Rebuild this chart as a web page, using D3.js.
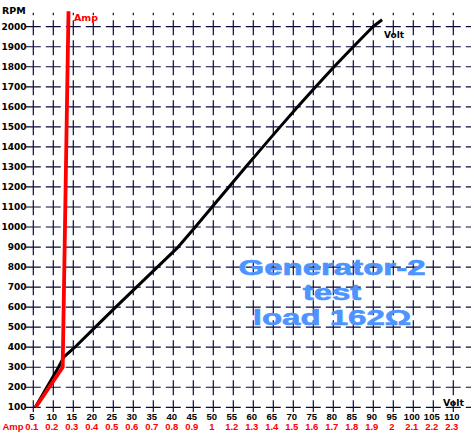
<!DOCTYPE html>
<html><head><meta charset="utf-8">
<script src="https://cdn.jsdelivr.net/npm/d3@7"></script>
<style>html,body{margin:0;padding:0;background:#fff;}svg{display:block;}</style>
</head><body>
<svg id="c" width="474" height="433"></svg>
<script>
// ---- data ----
const voltTicks = [5,10,15,20,25,30,35,40,45,50,55,60,65,70,75,80,85,90,95,100,105,110];
const ampLabels = ["0.1","0.2","0.3","0.4","0.5","0.6","0.7","0.8","0.9","1","1.2","1.3","1.4","1.5","1.6","1.7","1.8","1.9","2","2.1","2.2","2.3"];
const rpmTicks = [100,200,300,400,500,600,700,800,900,1000,1100,1200,1300,1400,1500,1600,1700,1800,1900,2000];
const voltValues = [5.5, 8.4, 11.3, 12.6, 15.4, 20.5, 25.6, 30.8, 36.0, 41.2, 45.5, 49.7, 53.9, 58.1, 62.4, 66.7, 71.1, 75.6, 80.2, 85.0, 89.9, 92.2];
const voltRpm    = [100, 200, 300, 350, 400, 500, 600, 700, 800, 900, 1000, 1100, 1200, 1300, 1400, 1500, 1600, 1700, 1800, 1900, 2000, 2035];
const ampValues = [0.112, 0.247, 0.276];
const ampRpm    = [100, 300, 2077];
const titleLines = ["Generator-2", "test", "load 162Ω"];

// ---- scales ----
const svg = d3.select("#c");
const x = d3.scaleLinear().domain([5,110]).range([33.3,453.3]);
const xa = d3.scaleLinear().domain([0.1,2.2]).range([33.3,453.3]);
const y = d3.scaleLinear().domain([100,2000]).range([407.3,26.7]);
const grid = "#0a0a3c";

// horizontal grid
svg.append("g").selectAll("line").data(rpmTicks).join("line")
  .attr("x1", x(5)-7.5).attr("x2", 471)
  .attr("y1", d=>y(d)).attr("y2", d=>y(d))
  .attr("stroke", grid).attr("stroke-width",1.2)
  .attr("stroke-dasharray","15,5");
// vertical grid
svg.append("g").selectAll("line").data(voltTicks).join("line")
  .attr("x1", d=>x(d)).attr("x2", d=>x(d))
  .attr("y1", 12.7).attr("y2", 412)
  .attr("stroke", grid).attr("stroke-width",1.2)
  .attr("stroke-dasharray","15,5").attr("stroke-dashoffset",12.5);

// y labels
svg.append("g").selectAll("text").data(rpmTicks).join("text")
  .attr("x", 26.5).attr("y", d=>y(d)+3)
  .attr("text-anchor","end")
  .attr("font-family","DejaVu Sans").attr("font-weight","bold").attr("font-size",9)
  .attr("fill","#000").text(d=>d);
svg.append("text").attr("x",2).attr("y",14)
  .attr("font-family","DejaVu Sans").attr("font-weight","bold").attr("font-size",9.5)
  .text("RPM");

// x labels
svg.append("g").selectAll("text").data(voltTicks).join("text")
  .attr("x", d=>x(d)-1.5).attr("y", 419.5)
  .attr("text-anchor","middle")
  .attr("font-family","Liberation Sans").attr("font-weight","bold").attr("font-size",9.5)
  .attr("fill","#000").text(d=>d);
svg.append("g").selectAll("text").data(ampLabels).join("text")
  .attr("x", (d,i)=>xa(0.1+i*0.1)-1.5).attr("y", 429.5)
  .attr("text-anchor","middle")
  .attr("font-family","Liberation Sans").attr("font-weight","bold").attr("font-size",9.5)
  .attr("fill","#f00").text(d=>d);
svg.append("text").attr("x",2.5).attr("y",429.5)
  .attr("font-family","Liberation Sans").attr("font-weight","bold").attr("font-size",9.5)
  .attr("fill","#f00").text("Amp");
svg.append("text").attr("x",443).attr("y",406)
  .attr("font-family","DejaVu Sans").attr("font-weight","bold").attr("font-size",9.5)
  .attr("fill","#000").text("Volt");

// lines
const voltLine = d3.line().x(d=>x(d[0])).y(d=>y(d[1]));
const ampLine = d3.line().x(d=>xa(d[0])).y(d=>y(d[1]));
svg.append("path").datum(voltValues.map((v,i)=>[v,voltRpm[i]]))
  .attr("d", voltLine).attr("fill","none").attr("stroke","#000")
  .attr("stroke-width",3).attr("stroke-linejoin","round");
svg.append("path").datum(ampValues.map((v,i)=>[v,ampRpm[i]]))
  .attr("d", ampLine).attr("fill","none").attr("stroke","#f00")
  .attr("stroke-width",3.8).attr("stroke-linejoin","miter");

// series labels
svg.append("text").attr("x",384).attr("y",37.5)
  .attr("font-family","DejaVu Sans").attr("font-weight","bold").attr("font-size",9)
  .attr("fill","#000").text("Volt");
svg.append("text").attr("x",74).attr("y",21)
  .attr("font-family","DejaVu Sans").attr("font-weight","bold").attr("font-size",9.5)
  .attr("fill","#f00").text("Amp");

// title
const tg = svg.append("g").attr("transform","translate(332,0) scale(1.5,1)");
tg.selectAll("text").data(titleLines).join("text")
  .attr("x",0).attr("y",(d,i)=>275+i*25)
  .attr("text-anchor","middle")
  .attr("font-family","Liberation Sans").attr("font-weight","bold").attr("font-size",22)
  .attr("fill","#4d94ff").attr("stroke","#4d94ff").attr("stroke-width",0.6)
  .text(d=>d);
</script>
</body></html>
